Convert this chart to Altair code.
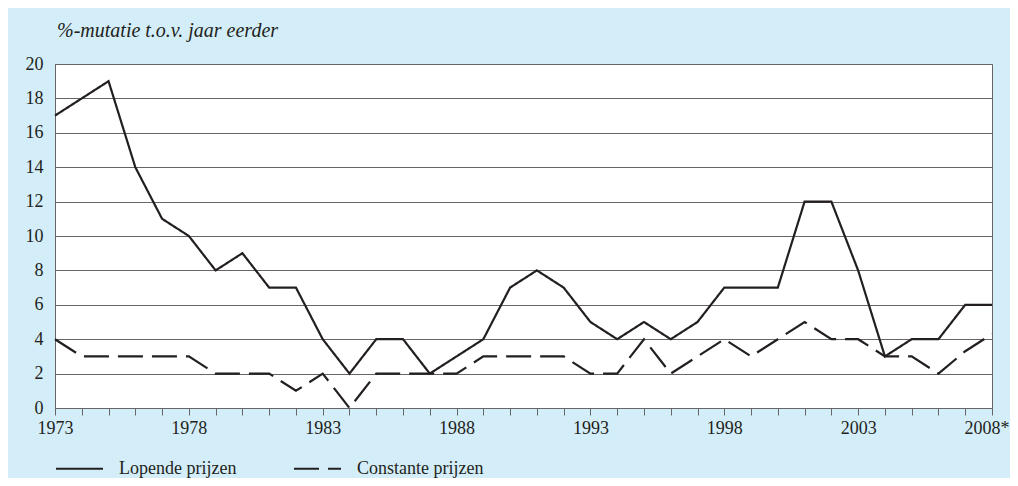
import altair as alt
import pandas as pd

years = list(range(1973, 2009))
lopende = [17, 18, 19, 14, 11, 10, 8, 9, 7, 7, 4, 2, 4, 4, 2, 3, 4, 7, 8, 7,
           5, 4, 5, 4, 5, 7, 7, 7, 12, 12, 8, 3, 4, 4, 6, 6]
constante = [4, 3, 3, 3, 3, 3, 2, 2, 2, 1, 2, 0, 2, 2, 2, 2, 3, 3, 3, 3,
             2, 2, 4, 2, 3, 4, 3, 4, 5, 4, 4, 3, 3, 2, 3.3, 4.3]
series_names = ["Lopende prijzen", "Constante prijzen"]
y_ticks = list(range(0, 21, 2))

rows = []
for name, vals in zip(series_names, [lopende, constante]):
    for yr, v in zip(years, vals):
        rows.append({"jaar": yr, "waarde": v, "reeks": name})
df = pd.DataFrame(rows)

FONT = "Liberation Serif"
INK = "#231f20"
GRID = "#666666"
BG = "#d4eef9"

chart = alt.Chart(df).mark_line(strokeWidth=2.2, color=INK, strokeJoin="miter").encode(
    x=alt.X("jaar:Q",
            scale=alt.Scale(domain=[1973, 2008], nice=False, zero=False),
            axis=alt.Axis(values=years, title=None, grid=False,
                          labelExpr="datum.value == 2008 ? '2008*' : ((datum.value - 1973) % 5 == 0 ? datum.label : '')",
                          format="d", tickSize=7, tickColor=GRID, domainColor=GRID,
                          labelPadding=4, labelFont=FONT, labelFontSize=18,
                          labelAlign={"condition": {"test": "datum.value == 2008", "value": "right"}, "value": "center"},
                          labelOffset={"condition": {"test": "datum.value == 2008", "value": 17}, "value": 0},
                          labelColor=INK, labelFlush=False, labelOverlap=False)),
    y=alt.Y("waarde:Q",
            scale=alt.Scale(domain=[0, 20], nice=False),
            axis=alt.Axis(values=y_ticks, title=None, grid=True, gridColor=GRID,
                          gridWidth=1, gridOpacity=1, ticks=False, domainColor=GRID,
                          labelPadding=12, labelFont=FONT, labelFontSize=18,
                          labelColor=INK)),
    strokeDash=alt.StrokeDash("reeks:N",
                              scale=alt.Scale(domain=series_names, range=[[1, 0], [25, 9]]),
                              legend=alt.Legend(title=None, orient="none", legendX=0, legendY=380,
                                                direction="horizontal", symbolType="stroke",
                                                symbolStrokeColor=INK, symbolStrokeWidth=2,
                                                symbolSize=2209, labelOffset=15,
                                                columnPadding=53, labelFont=FONT,
                                                labelFontSize=18, labelColor=INK, padding=0)),
    order="jaar:Q",
).properties(
    width=937, height=344,
    title=alt.TitleParams("%-mutatie t.o.v. jaar eerder", anchor="start", frame="group",
                          font=FONT, fontSize=20, fontStyle="italic", fontWeight="normal",
                          color=INK, offset=1, dx=2, dy=3, baseline="alphabetic"),
    autosize=alt.AutoSizeParams(type="none"),
    padding={"left": 47, "top": 56, "right": 18, "bottom": 70},
    background=BG,
).configure_view(fill="white", stroke=GRID, strokeWidth=1)

chart.save("out.html", embed_options={"renderer": "svg", "actions": False})
